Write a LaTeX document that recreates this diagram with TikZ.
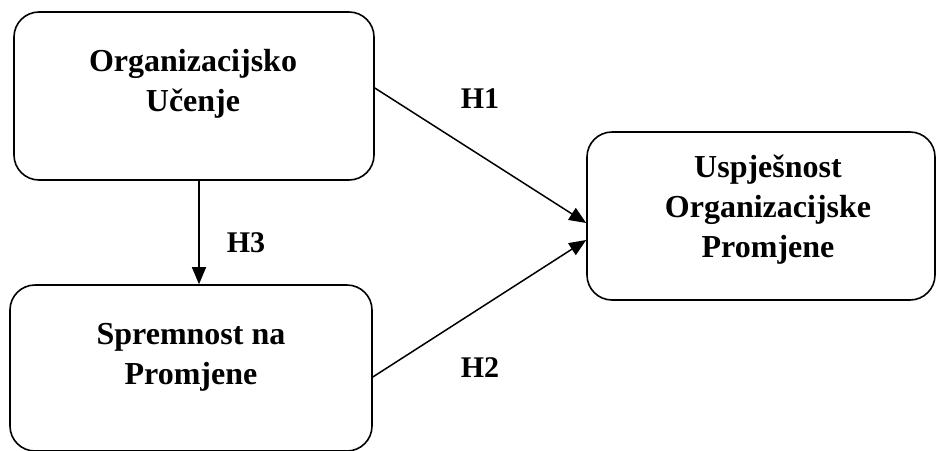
\documentclass[tikz,border=0pt]{standalone}
\usepackage{fontspec}
\setmainfont{Liberation Serif}
\usetikzlibrary{arrows.meta}

\begin{document}
\begin{tikzpicture}[x=1pt,y=-1pt,
    kutija/.style={draw, line width=1.6pt, rounded corners=25pt, inner sep=0pt},
    tekst/.style={font=\fontsize{32}{40}\selectfont\bfseries, align=center},
    hip/.style={font=\fontsize{30}{34}\selectfont\bfseries},
    veza/.style={line width=1.5pt, -{Triangle[length=17pt,width=14pt]}}]
        \useasboundingbox (0,0) rectangle (936,450);

        % Kutije
        \node[kutija, minimum width=360pt, minimum height=168pt] (oul) at (194,96) {};
        \node[kutija, minimum width=362pt, minimum height=166pt] (spr) at (191,368) {};
        \node[kutija, minimum width=348pt, minimum height=168pt] (usp) at (761,216) {};

        % Tekst u kutijama
        \node[tekst] (oul-t) at (193,84) {Organizacijsko\\Učenje};
        \node[tekst] (spr-t) at (191,357) {Spremnost na\\Promjene};
        \node[tekst] (usp-t) at (768,210) {Uspješnost\\Organizacijske\\Promjene};

        % Veze
        \draw[veza] ([yshift=8pt]oul.east) -- ([yshift=-7pt]usp.west);
        \draw[veza] ([yshift=-9pt]spr.east) -- ([yshift=-24pt]usp.west);
        \draw[veza] ([xshift=5pt]oul.south) -- ([xshift=8pt]spr.north);

        % Hipoteze
        \node[hip] (h1) at (480,99) {H1};
        \node[hip] (h2) at (480,368) {H2};
        \node[hip] (h3) at (246,243) {H3};
    \end{tikzpicture}
\end{document}
